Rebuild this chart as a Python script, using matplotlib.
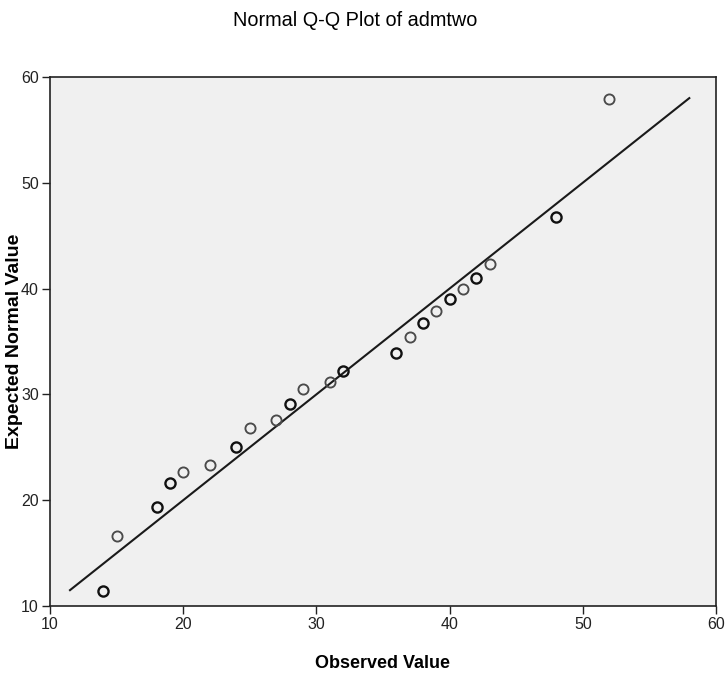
import matplotlib
matplotlib.use("Agg")
import matplotlib.pyplot as plt

plt.rcParams['font.family'] = ['Liberation Sans', 'DejaVu Sans']

observed = [14, 15, 18, 19, 20, 22, 24, 25, 27, 28, 29, 31, 32,
            36, 37, 38, 39, 40, 41, 42, 43, 48, 52]
expected = [11.4, 16.6, 19.4, 21.6, 22.7, 23.3, 25.0, 26.8, 27.6, 29.1, 30.5, 31.2, 32.2,
            33.9, 35.4, 36.7, 37.9, 39.0, 40.0, 41.0, 42.3, 46.8, 57.9]
# tied values are drawn several times over, so they look darker
dark = [True, False, True, True, False, False, True, False, False, True, False, False, True,
        True, False, True, False, True, False, True, False, True, False]
line_ends = [11.5, 58.0]
ticks = [10, 20, 30, 40, 50, 60]

fig = plt.figure(figsize=(7.27, 6.75), dpi=100)
ax = fig.add_axes([0.0688, 0.1022, 0.916, 0.7838])
ax.set_facecolor('#f0f0f0')

ax.plot(line_ends, line_ends, color='#1a1a1a', lw=1.5, zorder=2)

for x, y, d in zip(observed, expected, dark):
    ax.plot([x], [y], 'o', ms=7.3, mfc='none',
            mec='#111111' if d else '#4a4a4a', mew=1.7 if d else 1.35, zorder=3)

ax.set_xlim(10, 60)
ax.set_ylim(10, 60)
ax.set_xticks(ticks)
ax.set_yticks(ticks)
ax.tick_params(direction='out', length=6, width=1, labelsize=11.5, pad=2, colors='#222222')
for s in ax.spines.values():
    s.set_color('#222222')
    s.set_linewidth(1.2)

ax.set_xlabel('Observed Value', fontsize=13, fontweight='bold', va='center')
ax.set_ylabel('Expected Normal Value', fontsize=14, fontweight='bold', va='center')
ax.xaxis.set_label_coords(0.5, -0.108)
ax.yaxis.set_label_coords(-0.054, 0.5)
fig.text(0.489, 0.97, 'Normal Q-Q Plot of admtwo', ha='center', va='center', fontsize=14.3)

fig.savefig('out.png', dpi=100)
